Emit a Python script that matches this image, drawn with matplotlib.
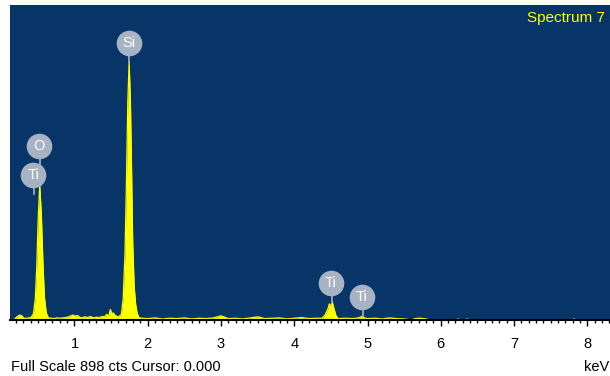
import numpy as np
from matplotlib import pyplot as plt
from matplotlib.ticker import MultipleLocator

plt.rcParams['font.family'] = ['Liberation Sans', 'DejaVu Sans']

# spectrum outline (keV, counts)
energy = [0.12, 0.18, 0.22, 0.25, 0.28, 0.31, 0.34, 0.38, 0.41, 0.44, 0.465, 0.485,
          0.505, 0.526, 0.548, 0.57, 0.59, 0.615, 0.645, 0.68, 0.72, 0.76, 0.80,
          0.84, 0.88, 0.92, 0.95, 0.98, 1.01, 1.04, 1.07, 1.10, 1.14, 1.18, 1.22,
          1.26, 1.30, 1.34, 1.38, 1.41, 1.44, 1.47, 1.49, 1.51, 1.53, 1.56, 1.60,
          1.64, 1.665, 1.69, 1.71, 1.728, 1.746, 1.764, 1.78, 1.795, 1.815, 1.835,
          1.855, 1.88, 1.92, 2.0, 2.1, 2.2, 2.3, 2.4, 2.5, 2.6, 2.7, 2.8, 2.9,
          3.0, 3.1, 3.2, 3.3, 3.4, 3.5, 3.6, 3.7, 3.8, 3.9, 4.0, 4.1, 4.2, 4.3,
          4.38, 4.42, 4.46, 4.48, 4.50, 4.52, 4.54, 4.57, 4.60, 4.7, 4.8, 4.88,
          4.92, 4.96, 5.0, 5.1, 5.2, 5.3, 5.4, 5.5, 5.6, 5.65, 5.72, 5.8, 5.85,
          6.22, 6.24, 6.26, 6.34, 6.36, 6.38, 7.80, 7.82, 7.84, 8.31]
counts = [0, 2, 10, 14, 12, 5, 5, 6, 8, 18, 60, 150,
          290, 385, 300, 160, 65, 20, 6, 5, 4, 6, 5,
          6, 7, 9, 12, 14, 11, 13, 8, 6, 9, 7, 10,
          6, 8, 7, 10, 9, 16, 12, 30, 18, 20, 12, 9,
          16, 60, 190, 400, 620, 736, 620, 420, 220, 95, 45,
          20, 7, 5, 4, 6, 3, 5, 4, 6, 3, 5, 4, 6,
          12, 4, 5, 3, 6, 9, 4, 5, 6, 3, 5, 7, 4, 5,
          5, 14, 32, 46, 38, 51, 34, 12, 4, 5, 4, 6,
          10, 6, 4, 5, 3, 6, 4, 3, 0, 4, 5, 3, 0,
          0, 3, 0, 0, 3, 0, 0, 3, 0, 0]

# element markers
lbl_names = ['Si', 'O', 'Ti', 'Ti', 'Ti']
lbl_energy = [1.738, 0.519, 0.437, 4.497, 4.921]
lbl_height = [790, 496, 413, 105, 66]
stem_energy = [1.740, 0.525, 0.452, 4.511, 4.932]
stem_bottom = [736, 385, 360, 51, 9]

bg = '#073567'
grey = '#a7b2c3'

fig = plt.figure(figsize=(6.1, 3.76), dpi=100)
ax = fig.add_axes([10/610, 56/376, 600/610, 315/376])
ax.set_facecolor(bg)
ax.set_xlim(0.12, 8.31)
ax.set_ylim(0, 898)

ax.fill_between(energy, counts, 0, color='#ffff00', lw=0, zorder=2)
ax.plot(energy, counts, color='#ffff00', lw=0.9, zorder=2)

# stems then circles with labels
for e, b, h in zip(stem_energy, stem_bottom, lbl_height):
    ax.plot([e, e], [b, h], color=grey, lw=1.2, zorder=3)
ax.scatter(lbl_energy, lbl_height, s=340, color=grey, zorder=4, lw=0)
for n, e, h in zip(lbl_names, lbl_energy, lbl_height):
    ax.text(e, h, n, color='white', fontsize=10.5, ha='center', va='center', zorder=5)

for s in ['top', 'left', 'right']:
    ax.spines[s].set_visible(False)
ax.spines['bottom'].set_color('black')
ax.spines['bottom'].set_linewidth(1.5)
ax.spines['bottom'].set_zorder(6)
ax.set_yticks([])
ax.xaxis.set_major_locator(MultipleLocator(1))
ax.xaxis.set_minor_locator(MultipleLocator(0.1))
ax.tick_params(axis='x', which='major', length=4, width=1, color='black',
               labelsize=10.5, pad=8)
ax.tick_params(axis='x', which='minor', length=2.2, width=1, color='black')

fig.text(605/610, 1 - 18/376, 'Spectrum 7', color='#ffff00', fontsize=11,
         ha='right', va='center')
fig.text(11/610, 1 - 367/376, 'Full Scale 898 cts Cursor: 0.000', fontsize=10.5,
         ha='left', va='center')
fig.text(609/610, 1 - 367/376, 'keV', fontsize=10.5, ha='right', va='center')

fig.savefig('out.png', dpi=100)
